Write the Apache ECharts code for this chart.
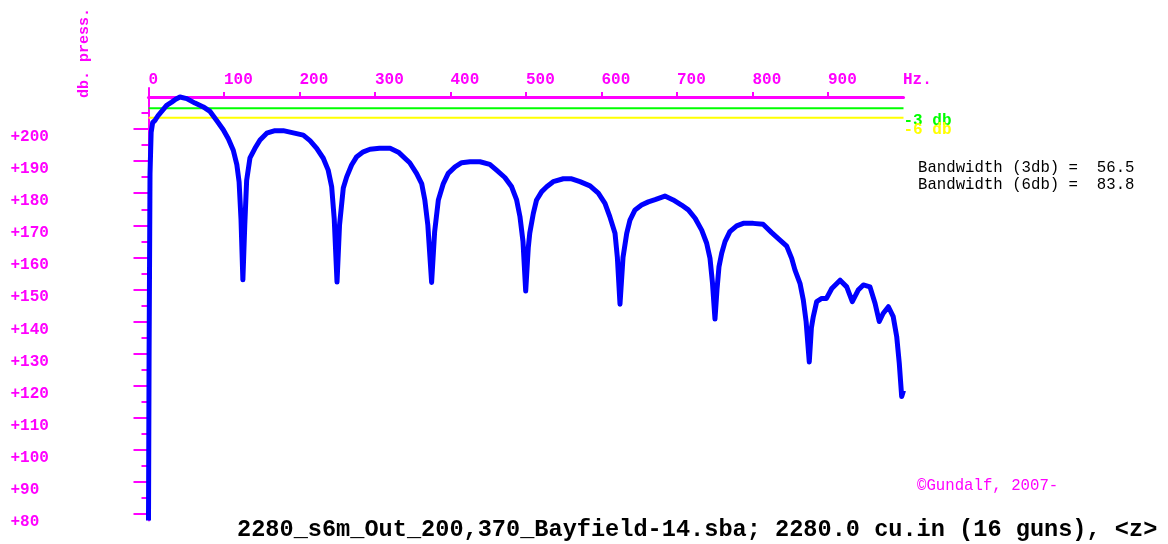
<!DOCTYPE html>
<html><head><meta charset="utf-8">
<script src="https://cdn.jsdelivr.net/npm/echarts@6/dist/echarts.min.js"></script>
<style>html,body{margin:0;padding:0;background:#fff;} #c{width:1168px;height:544px;}</style>
</head><body><div id="c"></div>
<script>
// Frequency (Hz) and pressure level (dB)
const FREQ = [0,0.8,2,3.5,5.5,8.6,13,17.4,24,30.7,36,41.7,50.6,61.6,72.6,81.5,90.3,99,105.7,112.3,117,120,122.5,125,127.5,130,134.4,141,147.7,156.6,167.5,178.5,191.8,205,213.9,222.8,231.5,238,242.6,246,249.7,253,258,262.5,269,275.8,284.5,293.4,306,320,331,346,355,361.8,366,370,375,379,383.9,390.5,397,406,414.8,425.8,439,452,461,472,481,487.6,492,496,499.6,503,505,509.7,514,520.8,527.4,536,549.4,560.5,571.5,584.8,595.8,604.6,611,617.9,621,624.5,628.5,633.4,637.7,644.4,653,662,671,684,695,706,715,724,732.7,739.3,743.7,747,750.3,753,755.6,759.2,763.6,770,779,787.8,801,814,825.4,836.4,845.3,851.9,856.3,862.9,867.3,871,875.2,878,880.5,885,891.7,898,905,916,924.8,932.2,940,946.8,955.6,962.3,967.9,973,980,986.4,991,994.4,997.6,1000];
const LEVEL = [78,131,186,199,202,202.7,204.3,205.5,207.4,208.4,209.3,210,209.5,208.1,206.9,205.5,202.7,199.8,197,193.4,188.9,183.5,172,153,170,184,191,194,196.6,198.7,199.5,199.5,198.8,198.1,196.4,194,190.9,187.2,182,172,152.3,170,181.6,185.1,188.8,191.4,192.9,193.7,194,194,192.8,189.5,186.2,183,177.9,170,152.2,168,177.9,183,186.2,188.2,189.5,189.8,189.8,189,187.2,184.9,182,177.9,172.7,165,149.5,163,167.6,173.7,177.9,180.5,182,183.6,184.5,184.5,183.6,182.3,180,176.8,172.7,167.5,160,145.4,160,167.5,171.6,174.8,176.3,177.3,178,179.1,177.9,176.3,174.8,172.2,168.5,164.4,159.7,152,140.8,150,157.1,161.3,164.9,168,169.8,170.6,170.6,170.3,167.7,165.4,163.5,159.7,156,151.9,146.7,140,127.4,138,141.5,146.2,147.2,147.2,150.3,152.9,150.8,146.2,149.8,151.4,150.8,145.7,140,142.5,144.6,141.5,135.3,127,116.6,118.5];
const X_TICKS = [0,100,200,300,400,500,600,700,800,900];
const Y_MAJOR = [80,90,100,110,120,130,140,150,160,170,180,190,200];
const Y_MINOR = [85,95,105,115,125,135,145,155,165,175,185,195,205];
const LEVEL_3DB = 206.5;
const LEVEL_6DB = 203.5;
const BW_3DB = '56.5';
const BW_6DB = '83.8';
const TITLE = '2280_s6m_Out_200,370_Bayfield-14.sba; 2280.0 cu.in (16 guns), <z>';
const COPYRIGHT = '\u00a9Gundalf, 2007-';

const MAG = '#ff00ff';
const FONT = '"Liberation Mono", "DejaVu Sans Mono", monospace';
const chart = echarts.init(document.getElementById('c'), null, {renderer: 'canvas'});

const YMIN = 78, YMAX = 212.8;
const option = {
  animation: false,
  backgroundColor: '#ffffff',
  grid: {left: 148.5, right: 264.5, top: 88, bottom: 23.6},
  title: [
    {text: 'Bandwidth (3db) =  ' + BW_3DB + '\nBandwidth (6db) =  ' + BW_6DB, left: 918, top: 159,
     textStyle: {fontFamily: FONT, fontSize: 15.7, fontWeight: 'normal', color: '#000', lineHeight: 17}, padding: 0},
    {text: COPYRIGHT, left: 917, top: 478,
     textStyle: {fontFamily: FONT, fontSize: 15.7, fontWeight: 'normal', color: MAG, lineHeight: 16}, padding: 0},
    {text: TITLE, left: 237, top: 518,
     textStyle: {fontFamily: FONT, fontSize: 23.6, fontWeight: 'bold', color: '#000', lineHeight: 24}, padding: 0},
    {text: 'Hz.', left: 903, top: 72,
     textStyle: {fontFamily: FONT, fontSize: 16, fontWeight: 'bold', color: MAG, lineHeight: 16}, padding: 0}
  ],
  graphic: [
    {type: 'text', x: 84, y: 53, rotation: Math.PI / 2,
     style: {text: 'db. press.', fill: MAG, font: 'bold 15px "Liberation Mono", monospace', align: 'center', verticalAlign: 'middle'}}
  ],
  xAxis: {
    type: 'value', position: 'top', offset: -9, min: 0, max: 1000,
    axisLine: {show: true, lineStyle: {color: MAG, width: 3}},
    axisTick: {show: true, length: 5, customValues: X_TICKS.slice(1), lineStyle: {color: MAG, width: 2}},
    axisLabel: {show: true, customValues: X_TICKS, align: 'left', verticalAlign: 'middle', margin: 17,
      color: MAG, fontFamily: FONT, fontWeight: 'bold', fontSize: 16, formatter: v => String(v)},
    splitLine: {show: false}
  },
  yAxis: [
    {
      type: 'value', min: YMIN, max: YMAX, position: 'left',
      axisLine: {show: true, onZero: false, lineStyle: {color: MAG, width: 2}},
      axisTick: {show: true, length: 15, customValues: Y_MAJOR, lineStyle: {color: MAG, width: 2}},
      axisLabel: {show: true, customValues: Y_MAJOR, align: 'left', verticalAlign: 'top', margin: 138,
        color: MAG, fontFamily: FONT, fontWeight: 'bold', fontSize: 16,
        formatter: v => '+' + v},
      splitLine: {show: false}
    },
    {
      type: 'value', min: YMIN, max: YMAX, position: 'left', offset: 0,
      axisLine: {show: false, onZero: false},
      axisTick: {show: true, length: 7, customValues: Y_MINOR, lineStyle: {color: MAG, width: 2}},
      axisLabel: {show: false},
      splitLine: {show: false}
    }
  ],
  series: [
    {type: 'line', name: '-3 db', data: [[0, LEVEL_3DB], [1000, LEVEL_3DB]], symbol: 'none', z: 1,
     lineStyle: {color: '#00ff00', width: 2}, silent: true,
     endLabel: {show: true, formatter: '-3 db', color: '#00ff00', fontFamily: FONT, fontWeight: 'bold', fontSize: 16,
       distance: 0, offset: [0, 13]}},
    {type: 'line', name: '-6 db', data: [[0, LEVEL_6DB], [1000, LEVEL_6DB]], symbol: 'none', z: 1,
     lineStyle: {color: '#ffff00', width: 2}, silent: true,
     endLabel: {show: true, formatter: '-6 db', color: '#ffff00', fontFamily: FONT, fontWeight: 'bold', fontSize: 16,
       distance: 0, offset: [0, 12]}},
    {type: 'line', name: 'spectrum', data: FREQ.map((f, i) => [f, LEVEL[i]]), symbol: 'none', z: 3,
     lineStyle: {color: '#0000ff', width: 5, join: 'round', cap: 'butt'}, silent: true}
  ]
};
chart.setOption(option);
</script>
</body></html>
